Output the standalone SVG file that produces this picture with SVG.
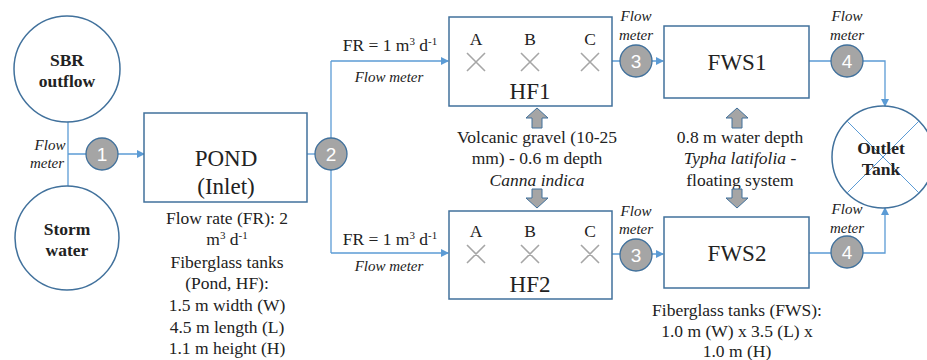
<svg xmlns="http://www.w3.org/2000/svg" width="927" height="360" viewBox="0 0 927 360" font-family="'Liberation Serif', 'Times New Roman', serif">
<style>
.c{fill:none;stroke:#5b9bd5;stroke-width:1.3}
.box{fill:#fff;stroke:#41719c;stroke-width:1.5}
.circ{fill:#fff;stroke:#41719c;stroke-width:1.5}
.meter{fill:#a5a5a5;stroke:#41719c;stroke-width:1.3}
.mt{font-family:'Liberation Sans', Arial, sans-serif;font-size:19px;fill:#fff;text-anchor:middle}
.t{font-family:'Liberation Serif', 'Times New Roman', serif;fill:#222;text-anchor:middle}
.b{font-weight:bold;font-size:17.5px}
.i{font-style:italic}
.big{font-size:23px}
.sm{font-size:17.5px}
.fm{font-size:15px;font-style:italic}
.x{stroke:#a6a6a6;stroke-width:1.6}
.garrow{fill:#a5a5a5;stroke:#41719c;stroke-width:1}
.cross{stroke:#5b9bd5;stroke-width:1}
</style>
<defs>
<marker id="ar" markerWidth="8" markerHeight="8" refX="7" refY="4" orient="auto" markerUnits="userSpaceOnUse">
<path d="M0,0 L8,4 L0,8 Z" fill="#5b9bd5"/>
</marker>
</defs>

<g id="connectors">
<path class="c" d="M68,122 V187"/>
<path class="c" d="M68,154 H144" marker-end="url(#ar)"/>
<path class="c" d="M307,154 H331"/>
<path class="c" d="M331,61 V253"/>
<path class="c" d="M331,61 H448" marker-end="url(#ar)"/>
<path class="c" d="M331,253 H448" marker-end="url(#ar)"/>
<path class="c" d="M612,61 H663" marker-end="url(#ar)"/>
<path class="c" d="M612,254 H663" marker-end="url(#ar)"/>
<path class="c" d="M809,61 H885 V106" marker-end="url(#ar)"/>
<path class="c" d="M809,253 H885 V208" marker-end="url(#ar)"/>
</g>

<g id="sbr">
<circle class="circ" cx="67" cy="69" r="53"/>
<text class="t b" x="67" y="66">SBR</text>
<text class="t b" x="67" y="87">outflow</text>
</g>

<g id="storm">
<circle class="circ" cx="67" cy="238" r="52"/>
<text class="t b" x="67" y="235">Storm</text>
<text class="t b" x="67" y="256">water</text>
</g>

<g id="fm1-label">
<text class="t fm" x="50" y="150">Flow</text>
<text class="t fm" x="47" y="168">meter</text>
</g>

<g id="meter1">
<circle class="meter" cx="102" cy="154" r="16"/>
<text class="mt" x="102" y="161">1</text>
</g>

<g id="pond">
<rect class="box" x="144" y="113" width="163" height="89"/>
<text class="t big" x="226" y="166">POND</text>
<text class="t big" x="226" y="194">(Inlet)</text>
</g>

<g id="pond-notes">
<text class="t sm" x="227" y="224">Flow rate (FR): 2</text>
<text class="t sm" x="227" y="245">m<tspan font-size="11" dy="-6">3</tspan><tspan dy="6"> d</tspan><tspan font-size="11" dy="-6">-1</tspan></text>
<text class="t sm" x="227" y="268">Fiberglass tanks</text>
<text class="t sm" x="227" y="289">(Pond, HF):</text>
<text class="t sm" x="227" y="311">1.5 m width (W)</text>
<text class="t sm" x="227" y="333">4.5 m length (L)</text>
<text class="t sm" x="227" y="354">1.1 m height (H)</text>
</g>

<g id="meter2">
<circle class="meter" cx="331" cy="154" r="16"/>
<text class="mt" x="331" y="161">2</text>
</g>

<g id="branch-labels">
<text class="t sm" x="390" y="51">FR = 1 m<tspan font-size="11" dy="-6">3</tspan><tspan dy="6"> d</tspan><tspan font-size="11" dy="-6">-1</tspan></text>
<text class="t fm" x="389" y="82">Flow meter</text>
<text class="t sm" x="390" y="245">FR = 1 m<tspan font-size="11" dy="-6">3</tspan><tspan dy="6"> d</tspan><tspan font-size="11" dy="-6">-1</tspan></text>
<text class="t fm" x="389" y="271">Flow meter</text>
</g>

<g id="hf1">
<rect class="box" x="449" y="17" width="163" height="89"/>
<text class="t sm" x="476" y="45">A</text>
<text class="t sm" x="530" y="45">B</text>
<text class="t sm" x="590" y="45">C</text>
<path class="x" d="M467,53 L485,71 M485,53 L467,71 M521,53 L539,71 M539,53 L521,71 M581,53 L599,71 M599,53 L581,71"/>
<text class="t big" x="530" y="99">HF1</text>
</g>

<g id="hf2">
<rect class="box" x="449" y="211" width="163" height="88"/>
<text class="t sm" x="476" y="237">A</text>
<text class="t sm" x="530" y="237">B</text>
<text class="t sm" x="590" y="237">C</text>
<path class="x" d="M467,245 L485,263 M485,245 L467,263 M521,245 L539,263 M539,245 L521,263 M581,245 L599,263 M599,245 L581,263"/>
<text class="t big" x="530" y="292">HF2</text>
</g>

<g id="hf-notes">
<path class="garrow" d="M537,108 L548,118 L542,118 L542,128 L532,128 L532,118 L526,118 Z"/>
<text class="t sm" x="537" y="143">Volcanic gravel (10-25</text>
<text class="t sm" x="537" y="164">mm) - 0.6 m depth</text>
<text class="t sm i" x="537" y="186">Canna indica</text>
<path class="garrow" d="M537,208 L548,198 L542,198 L542,189 L532,189 L532,198 L526,198 Z"/>
</g>

<g id="meter3a">
<text class="t fm" x="636" y="21">Flow</text>
<text class="t fm" x="636" y="40">meter</text>
<circle class="meter" cx="636" cy="61" r="16"/>
<text class="mt" x="636" y="68">3</text>
</g>

<g id="meter3b">
<text class="t fm" x="636" y="216">Flow</text>
<text class="t fm" x="636" y="234">meter</text>
<circle class="meter" cx="636" cy="255" r="16"/>
<text class="mt" x="636" y="262">3</text>
</g>

<g id="fws1">
<rect class="box" x="664" y="26" width="145" height="72"/>
<text class="t big" x="737" y="70">FWS1</text>
</g>

<g id="fws2">
<rect class="box" x="664" y="217" width="145" height="71"/>
<text class="t big" x="737" y="261">FWS2</text>
</g>

<g id="fws-notes">
<path class="garrow" d="M737,108 L748,118 L742,118 L742,128 L732,128 L732,118 L726,118 Z"/>
<text class="t sm" x="740" y="143">0.8 m water depth</text>
<text class="t sm" x="740" y="164"><tspan font-style="italic">Typha latifolia</tspan> -</text>
<text class="t sm" x="740" y="186">floating system</text>
<path class="garrow" d="M737,208 L748,198 L742,198 L742,189 L732,189 L732,198 L726,198 Z"/>
<text class="t sm" x="737" y="316">Fiberglass tanks (FWS):</text>
<text class="t sm" x="737" y="337">1.0 m (W) x 3.5 (L) x</text>
<text class="t sm" x="737" y="357">1.0 m (H)</text>
</g>

<g id="meter4a">
<text class="t fm" x="847" y="21">Flow</text>
<text class="t fm" x="847" y="40">meter</text>
<circle class="meter" cx="847" cy="61" r="16"/>
<text class="mt" x="847" y="68">4</text>
</g>

<g id="meter4b">
<text class="t fm" x="847" y="214">Flow</text>
<text class="t fm" x="847" y="233">meter</text>
<circle class="meter" cx="847" cy="252" r="16"/>
<text class="mt" x="847" y="259">4</text>
</g>

<g id="outlet">
<circle class="circ" cx="883" cy="157" r="51"/>
<path class="cross" d="M847,121 L919,193 M919,121 L847,193"/>
<text class="t b" x="881" y="154">Outlet</text>
<text class="t b" x="881" y="175">Tank</text>
</g>
</svg>
